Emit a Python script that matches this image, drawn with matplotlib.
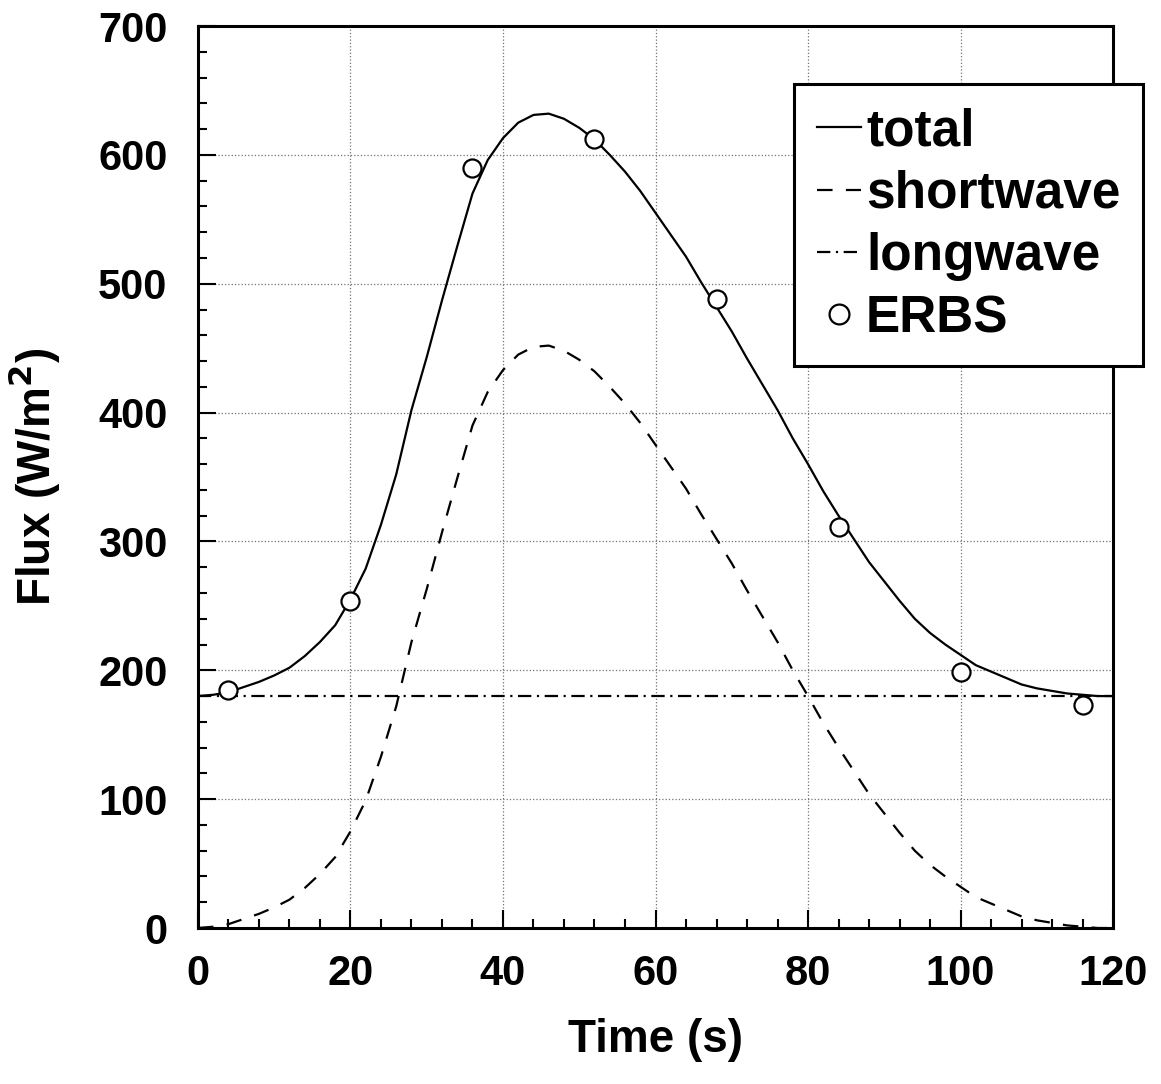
import numpy as np
import matplotlib
matplotlib.use("Agg")
import matplotlib.pyplot as plt
from matplotlib.ticker import MultipleLocator

plt.rcParams['font.family'] = ['Liberation Sans', 'DejaVu Sans']
plt.rcParams['font.weight'] = 'bold'
plt.rcParams['axes.labelweight'] = 'bold'
plt.rcParams['mathtext.default'] = 'bf'

# model time axis (s), every 2 s
time_s = np.arange(0, 122, 2)

# shortwave flux (W/m^2)
shortwave = [0, 1, 3, 7, 11, 16, 22, 31, 42, 55,
             75, 99, 133, 172, 222, 263, 307, 349, 390, 416,
             433, 445, 451, 452, 448, 441, 432, 420, 407, 392,
             375, 358, 341, 321, 302, 283, 262, 242, 222, 200,
             180, 159, 140, 122, 104, 89, 74, 60, 49, 40,
             32, 24, 19, 14, 9, 6, 4, 2, 1, 0, 0]

# longwave is flat
longwave_level = 180

# ERBS measurements
erbs_t = [4, 20, 36, 52, 68, 84, 100, 116]
erbs_flux = [185, 254, 590, 612, 488, 311, 199, 173]

shortwave = np.array(shortwave, dtype=float)
longwave = np.full(len(time_s), float(longwave_level))
total = shortwave + longwave

fig = plt.figure(figsize=(11.61, 10.84), dpi=100)
ax = fig.add_axes([0.1705, 0.1439, 0.7882, 0.8321])

lw = 1.6
ax.plot(time_s, total, color='black', lw=lw, label='total', zorder=3)
ax.plot(time_s, shortwave, color='black', lw=lw, dashes=(7, 6),
        label='shortwave', zorder=3)
ax.plot(time_s, longwave, color='black', lw=lw, dashes=(6, 2.5, 1, 2.5),
        label='longwave', zorder=3)
ax.plot(erbs_t, erbs_flux, linestyle='none', marker='o', ms=13,
        mfc='white', mec='black', mew=1.6, label='ERBS', zorder=4)

ax.set_xlim(0, 120)
ax.set_ylim(0, 700)
ax.xaxis.set_major_locator(MultipleLocator(20))
ax.xaxis.set_minor_locator(MultipleLocator(4))
ax.yaxis.set_major_locator(MultipleLocator(100))
ax.yaxis.set_minor_locator(MultipleLocator(20))

ax.grid(True, which='major', linestyle=':', color='0.45', lw=0.9)
ax.tick_params(which='both', direction='in', top=False, right=False,
               width=1.5, color='black')
ax.tick_params(which='major', length=13, labelsize=30)
ax.tick_params(axis='x', which='major', pad=19)
ax.tick_params(axis='y', which='major', pad=22)
ax.tick_params(which='minor', length=6.5)

for s in ax.spines.values():
    s.set_linewidth(2.2)

ax.set_xlabel('Time (s)', fontsize=33)
ax.set_ylabel('Flux (W/m$^2$)', fontsize=33)
ax.xaxis.set_label_coords(0.5, -0.100)
ax.yaxis.set_label_coords(-0.149, 0.5)

leg = ax.legend(loc='upper left', bbox_to_anchor=(0.6514, 0.9357),
                borderaxespad=0, fontsize=37, frameon=True, fancybox=False,
                borderpad=0.45, labelspacing=0.26, handlelength=0.85,
                handletextpad=0.1, numpoints=1, markerscale=1.1)
leg.get_frame().set_edgecolor('black')
leg.get_frame().set_linewidth(2.2)
leg.get_frame().set_alpha(1)

fig.savefig('out.png', dpi=100)
